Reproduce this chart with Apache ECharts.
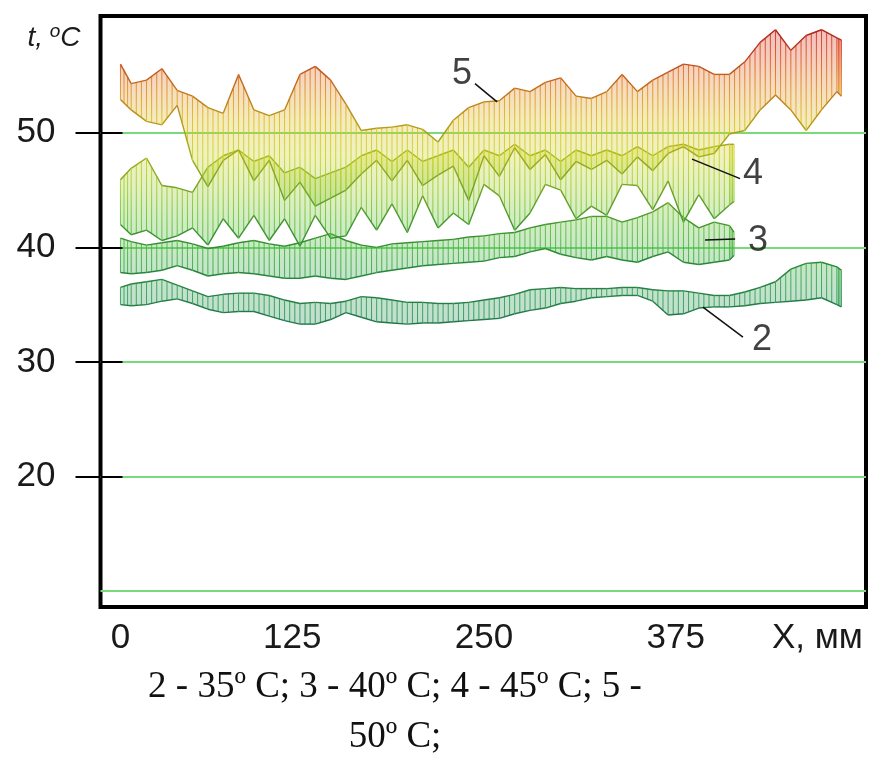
<!DOCTYPE html>
<html>
<head>
<meta charset="utf-8">
<script src="https://cdn.jsdelivr.net/npm/echarts@6/dist/echarts.min.js"></script>
<style>
  html, body { margin: 0; padding: 0; background: #ffffff; }
  #chart { width: 876px; height: 776px; }
</style>
</head>
<body>
<div id="chart"></div>
<script>
// ---------- data (x in mm, temperatures in °C) ----------
const xLong = [13,20,30,40,50,60,70,80,90,100,110,120,130,140,150,160,170,180,190,200,210,220,230,240,250,260,270,280,290,300,310,320,330,340,350,360,370,380,390,400,410,420,430,440,450,460,470,480,483];
const xShort = [13,20,30,40,50,60,70,80,90,100,110,120,130,140,150,160,170,180,190,200,210,220,230,240,250,260,270,280,290,300,310,320,330,340,350,360,370,380,390,400,410,413];

// curve 2 (35 °C)
const c2Upper = [36.5,36.8,37.0,37.2,36.7,36.2,35.7,35.9,36.0,36.0,35.8,35.4,35.1,35.2,35.1,35.3,35.7,35.6,35.4,35.2,35.2,35.1,35.1,35.2,35.4,35.6,35.9,36.3,36.4,36.5,36.4,36.4,36.4,36.5,36.5,36.3,36.2,36.2,36.0,35.8,35.8,36.1,36.5,37.0,38.1,38.6,38.7,38.3,38.0];
const c2Lower = [35.0,34.9,35.0,35.3,35.5,35.1,34.6,34.3,34.4,34.4,34.0,33.6,33.3,33.3,33.7,34.3,33.9,33.5,33.4,33.3,33.4,33.4,33.5,33.6,33.7,33.8,34.2,34.5,34.7,35.1,35.3,35.6,35.7,35.8,35.8,35.3,34.1,34.2,34.7,34.8,34.8,34.9,35.1,35.2,35.3,35.4,35.6,35.0,34.8];

// curve 3 (40 °C)
const c3Upper = [40.8,40.5,40.2,40.4,40.6,40.3,39.9,40.1,40.4,40.6,40.3,40.1,40.4,40.8,41.2,40.6,40.2,40.0,40.3,40.4,40.5,40.6,40.7,40.9,41.0,41.2,41.3,41.7,42.0,42.2,42.4,42.7,42.7,42.2,42.6,43.1,43.9,42.6,41.7,42.2,41.9,41.3];
const c3Lower = [37.8,37.7,37.8,38.0,38.4,38.0,37.5,37.7,37.8,37.7,37.5,37.3,37.3,37.5,37.3,37.2,37.5,37.8,38.0,38.2,38.4,38.5,38.6,38.7,38.8,39.1,39.2,39.6,39.9,39.4,39.1,38.9,39.2,38.9,38.7,39.2,39.6,38.7,38.5,38.7,38.9,39.3];

// curve 4 (45 °C)
const c4Upper = [45.9,46.9,47.8,45.4,45.2,44.8,47.0,48.0,48.5,47.5,48.0,46.5,47.0,46.0,46.5,47.0,48.0,48.5,47.5,48.5,47.5,48.0,48.5,47.0,48.5,48.0,49.0,48.0,48.5,47.5,48.5,48.0,48.5,48.0,48.8,48.0,48.8,49.0,48.5,48.8,49.0,49.0];
const c4Lower = [42.0,41.1,41.5,40.6,41.0,41.7,40.2,42.5,40.8,42.8,40.6,42.5,40.1,42.8,40.8,41.0,43.5,41.5,43.8,41.3,44.5,41.7,43.0,42.0,45.5,44.5,41.5,43.0,45.5,45.0,42.5,43.6,42.8,45.5,45.4,43.3,45.8,42.2,44.6,42.5,43.7,44.0];

// curve 5 (50 °C)
const c5Upper = [56.0,54.3,54.6,55.6,53.7,53.2,52.2,51.7,55.1,52.0,51.5,52.0,55.1,55.8,54.6,52.5,50.2,50.4,50.5,50.7,50.3,49.2,51.1,52.2,52.7,52.8,53.9,53.6,54.4,54.8,53.2,53.0,53.6,55.1,53.6,54.6,55.3,56.0,55.8,55.1,55.1,56.2,57.9,59.0,57.2,58.5,59.0,58.3,58.1];
const c5Lower = [52.9,52.0,51.0,50.7,52.4,47.6,45.3,47.6,48.5,45.8,47.6,44.1,45.7,43.6,44.3,45.0,46.4,47.6,45.8,47.6,45.4,46.3,47.1,44.1,48.0,46.2,48.7,46.8,48.1,45.9,47.5,46.8,47.6,46.4,47.9,46.7,48.2,48.8,47.9,48.2,49.9,50.2,52.0,53.3,52.0,50.2,52.0,53.6,53.2];

// tick labels / grid values
const xTickValues = [0, 125, 250, 375];
const yTickValues = [20, 30, 40, 50];
const gridValues = [10, 20, 30, 40, 50];

// curve annotations: label number, label position, leader line
const annoNames = ['5', '4', '3', '2'];
const annoLabelPos = [[235.7, 55.1], [425.3, 46.4], [428.6, 40.55], [431.2, 31.9]];
const annoLeaderFrom = [[244.1, 54.3], [385.6, 47.7], [394.1, 40.64], [392.7, 34.79]];
const annoLeaderTo = [[258.5, 52.7], [416.9, 46.0], [413.7, 40.73], [418.8, 32.17]];

const captionText = '2 - 35º C; 3 - 40º C; 4 - 45º C; 5 -\n50º C;';

// ---------- rendering ----------
const chart = echarts.init(document.getElementById('chart'), null, { renderer: 'canvas' });

const hatchStops = [
  [60, '#c81e1e'], [57, '#dc4e26'], [54, '#e08a28'], [51, '#dcbe24'], [48, '#ccd42a'],
  [45, '#9ccc34'], [42, '#62c03c'], [39, '#40ae46'], [36, '#349e56'], [32, '#2a905c']
];
const edgeStops = [
  [60, '#a81616'], [57, '#c03c1c'], [54, '#c46e1c'], [51, '#b89a18'], [48, '#9cac1c'],
  [45, '#74a426'], [42, '#40962e'], [39, '#2a8834'], [36, '#268046'], [32, '#1e704c']
];
function toStops(list) {
  return list.map(function (s) { return { offset: (60 - s[0]) / 28, color: s[1] }; });
}

function bandRenderer(xs, lo, up) {
  return function (params, api) {
    const i = params.dataIndex;
    const top = api.coord([0, 60])[1];
    const bot = api.coord([0, 32])[1];
    const hatch = new echarts.graphic.LinearGradient(0, top, 0, bot, toStops(hatchStops), true);
    const edge = new echarts.graphic.LinearGradient(0, top, 0, bot, toStops(edgeStops), true);
    const fill = new echarts.graphic.LinearGradient(0, top, 0, bot, toStops(hatchStops), true);
    const children = [];
    const u0 = api.coord([xs[i], up[i]]);
    const l0 = api.coord([xs[i], lo[i]]);
    if (i < xs.length - 1) {
      const u1 = api.coord([xs[i + 1], up[i + 1]]);
      const l1 = api.coord([xs[i + 1], lo[i + 1]]);
      children.push({
        type: 'polygon',
        shape: { points: [u0, u1, l1, l0] },
        style: { fill: fill, opacity: 0.3 }
      });
      [1 / 3, 2 / 3].forEach(function (t) {
        const ux = u0[0] + (u1[0] - u0[0]) * t, uy = u0[1] + (u1[1] - u0[1]) * t;
        const lx = l0[0] + (l1[0] - l0[0]) * t, ly = l0[1] + (l1[1] - l0[1]) * t;
        children.push({
          type: 'line',
          shape: { x1: ux, y1: uy, x2: lx, y2: ly },
          style: { stroke: hatch, lineWidth: 1, opacity: 0.9 }
        });
      });
      children.push({
        type: 'line',
        shape: { x1: u0[0], y1: u0[1], x2: u1[0], y2: u1[1] },
        style: { stroke: edge, lineWidth: 1.4 }
      });
      children.push({
        type: 'line',
        shape: { x1: l0[0], y1: l0[1], x2: l1[0], y2: l1[1] },
        style: { stroke: edge, lineWidth: 1.4 }
      });
    }
    children.push({
      type: 'line',
      shape: { x1: u0[0], y1: u0[1], x2: l0[0], y2: l0[1] },
      style: { stroke: hatch, lineWidth: 1, opacity: 0.9 }
    });
    return { type: 'group', children: children };
  };
}

function bandSeries(name, xs, lo, up, extra) {
  const s = {
    name: name,
    type: 'custom',
    coordinateSystem: 'cartesian2d',
    renderItem: bandRenderer(xs, lo, up),
    data: xs.map(function (x, k) { return [x, lo[k], up[k]]; }),
    encode: { x: 0, y: [1, 2] },
    silent: true,
    animation: false,
    z: 2
  };
  return Object.assign(s, extra || {});
}

const fontSans = 'Liberation Sans, Arial, sans-serif';

const option = {
  backgroundColor: '#ffffff',
  animation: false,
  title: {
    text: captionText,
    left: 395,
    top: 662,
    textAlign: 'center',
    padding: 0,
    textStyle: {
      fontFamily: 'Liberation Serif, Times New Roman, serif',
      fontSize: 37,
      fontWeight: 'normal',
      color: '#111111',
      lineHeight: 50
    }
  },
  grid: {
    left: 100.5,
    right: 10,
    top: 16,
    bottom: 169,
    show: true,
    borderColor: '#000000',
    borderWidth: 4,
    backgroundColor: '#ffffff'
  },
  xAxis: {
    type: 'value',
    min: 0,
    max: 499,
    name: 'X, мм',
    nameLocation: 'end',
    nameGap: -94,
    nameTextStyle: {
      fontFamily: fontSans, fontSize: 35, color: '#1a1a1a',
      align: 'left', verticalAlign: 'top', padding: [14, 0, 0, 0]
    },
    axisLine: { show: false },
    axisTick: { show: false },
    splitLine: { show: false },
    axisLabel: {
      customValues: xTickValues,
      margin: 14,
      fontFamily: fontSans,
      fontSize: 35,
      color: '#1a1a1a',
      formatter: function (v) { return v === 0 ? '{z|0}' : String(v); },
      rich: { z: { fontFamily: fontSans, fontSize: 35, color: '#1a1a1a', padding: [0, 0, 0, 40] } }
    }
  },
  yAxis: [
    {
      type: 'value',
      min: 8.6,
      max: 60.2,
      position: 'left',
      name: '{t|t,}  {o|o}{c|C}',
      nameLocation: 'end',
      nameGap: -22,
      nameTextStyle: {
        align: 'right',
        verticalAlign: 'middle',
        padding: [0, 20, 0, 0],
        rich: {
          t: { fontFamily: fontSans, fontStyle: 'italic', fontSize: 28, color: '#1a1a1a', lineHeight: 32 },
          o: { fontFamily: fontSans, fontStyle: 'italic', fontSize: 19, color: '#1a1a1a', lineHeight: 18, verticalAlign: 'top' },
          c: { fontFamily: fontSans, fontStyle: 'italic', fontSize: 28, color: '#1a1a1a', lineHeight: 32 }
        }
      },
      axisLine: { show: false },
      splitLine: { show: false },
      axisTick: {
        show: true, inside: false, length: 25,
        customValues: yTickValues,
        lineStyle: { color: '#000000', width: 2 }
      },
      axisLabel: {
        customValues: yTickValues,
        margin: 45,
        fontFamily: fontSans,
        fontSize: 35,
        color: '#1a1a1a'
      }
    },
    {
      type: 'value',
      min: 8.6,
      max: 60.2,
      position: 'left',
      z: 3,
      axisLine: { show: false },
      splitLine: { show: false },
      axisLabel: { show: false },
      axisTick: {
        show: true, inside: true, length: 22,
        customValues: yTickValues,
        lineStyle: { color: '#000000', width: 2 }
      }
    }
  ],
  series: [
    bandSeries('2 - 35º C', xLong, c2Lower, c2Upper, {
      markLine: {
        silent: true,
        symbol: 'none',
        z: 1,
        animation: false,
        label: { show: false },
        lineStyle: { color: '#78da78', width: 2, type: 'solid' },
        data: gridValues.map(function (v) { return { yAxis: v }; })
      }
    }),
    bandSeries('3 - 40º C', xShort, c3Lower, c3Upper),
    bandSeries('4 - 45º C', xShort, c4Lower, c4Upper),
    bandSeries('5 - 50º C', xLong, c5Lower, c5Upper),
    {
      name: 'leaders',
      type: 'lines',
      coordinateSystem: 'cartesian2d',
      polyline: false,
      silent: true,
      z: 5,
      lineStyle: { color: '#111111', width: 1.5, opacity: 1 },
      data: annoNames.map(function (n, k) {
        return { name: n, coords: [annoLeaderFrom[k], annoLeaderTo[k]] };
      })
    },
    {
      name: 'labels',
      type: 'scatter',
      silent: true,
      z: 6,
      symbolSize: 1,
      itemStyle: { color: 'rgba(0,0,0,0)' },
      label: {
        show: true,
        position: 'inside',
        fontFamily: fontSans,
        fontSize: 36,
        color: '#111111',
        formatter: function (p) { return p.value[2]; }
      },
      data: annoNames.map(function (n, k) {
        return [annoLabelPos[k][0], annoLabelPos[k][1], n];
      })
    }
  ]
};

chart.setOption(option);
</script>
</body>
</html>
